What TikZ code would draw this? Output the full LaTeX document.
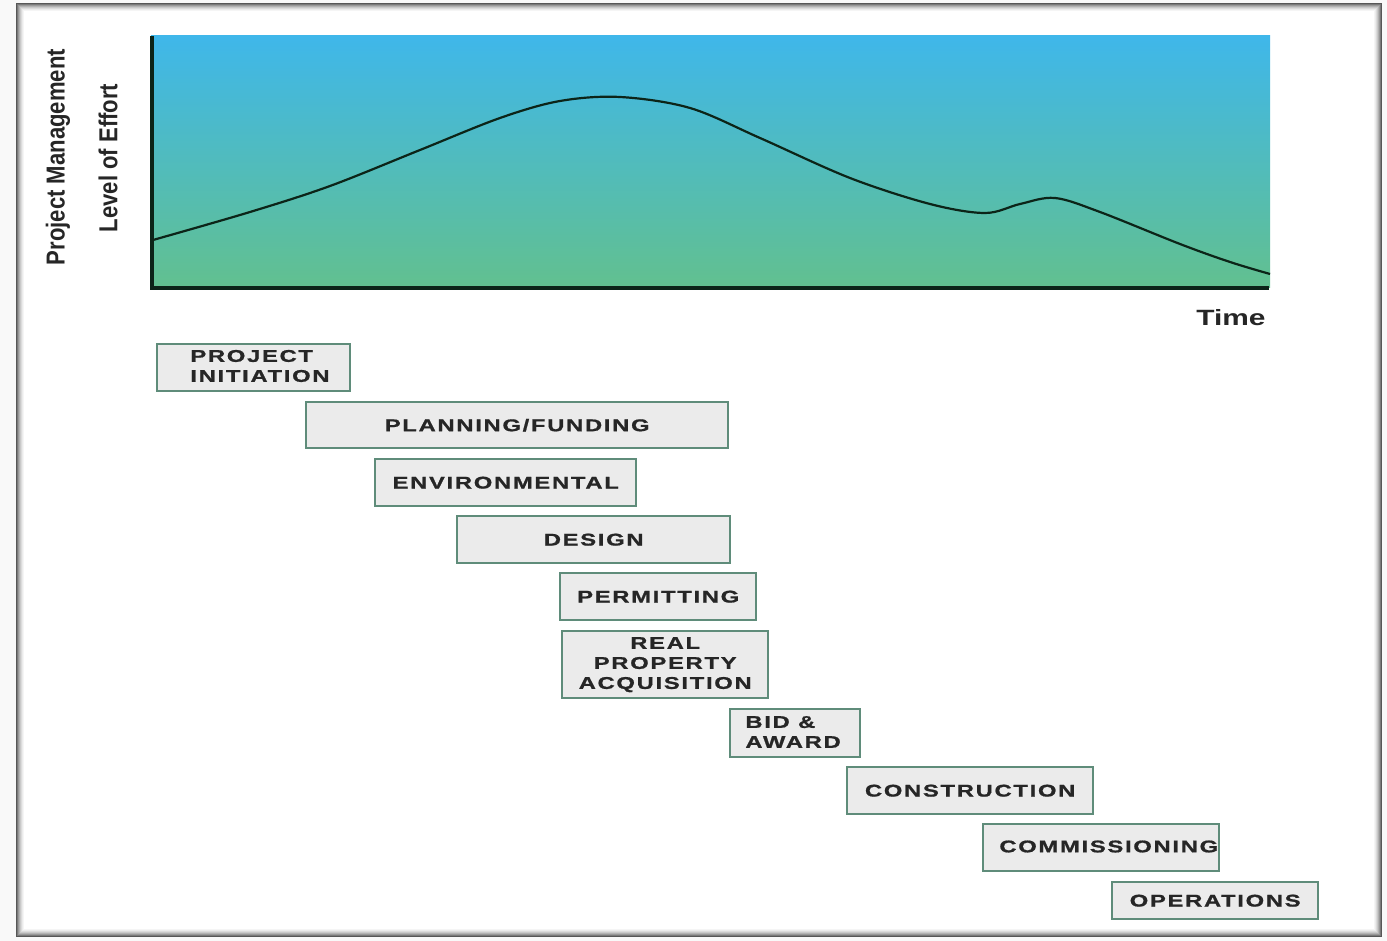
\documentclass[tikz,border=0pt]{standalone}
\usepackage{fontspec}
\setmainfont{Liberation Sans}
\newfontfamily\boxfont{Liberation Sans}[FakeStretch=1.4,LetterSpace=10,FakeBold=1]
\newfontfamily\axisfont{Liberation Sans}
\definecolor{skyblue}{HTML}{3FB7EA}
\definecolor{seagreen}{HTML}{62C08F}
\definecolor{boxedge}{HTML}{5F8C7A}
\definecolor{boxfill}{HTML}{EBEBEB}
\definecolor{inktext}{HTML}{262626}
\definecolor{axisink}{HTML}{0C2418}
\begin{document}
\begin{tikzpicture}[x=0.5pt,y=-0.5pt,
  phase/.style={draw=boxedge, line width=1.2pt, fill=boxfill, inner sep=0pt},
  phasetext/.style={font=\boxfont\bfseries\fontsize{8.5}{10}\selectfont, text=inktext, inner sep=0pt},
  axislabel/.style={font=\axisfont\bfseries\fontsize{13}{15}\selectfont, text=inktext, inner sep=0pt}]
\useasboundingbox (0,0) rectangle (1387,941);
% page background and frame
\fill[gray!5] (0,0) rectangle (1387,941);
\fill[white] (16,3) rectangle (1382,937);
\foreach \i/\c in {0/66,1/52,2/40,3/30,4/21,5/14,6/8,7/4}{
  \draw[black!\c, line width=0.55pt] (16.5+\i,3.5+\i) rectangle (1381.5-\i,936.5-\i);
}
% chart area
\shade[top color=skyblue, bottom color=seagreen, middle color=skyblue!50!seagreen] (151,36) rectangle (1270,288);
\draw[axisink, line width=1.1pt, smooth, tension=0.55] plot coordinates {
  (153,240) (250,212) (330,186) (420,150) (500,118) (560,101) (620,97)
  (690,108) (760,138) (850,178) (930,204) (985,213) (1020,204) (1055,198)
  (1100,212) (1180,244) (1230,262) (1270,274)};
\draw[axisink, line width=2pt] (152,36) -- (152,288) -- (1269,288);
% axis labels
\node[axislabel, rotate=90] (pm) at (58,157) {\scalebox{0.85}[1]{Project Management}};
\node[axislabel, rotate=90] (loe) at (108,158) {\scalebox{0.85}[1]{Level of Effort}};
\node[axislabel, anchor=base east] (time) at (1266,326) {\scalebox{1.15}[0.85]{Time}};
% phase boxes
\node[phase, minimum width=193pt*0.5, minimum height=47pt*0.5, anchor=north west] (b1) at (156,343) {};
\node[phasetext, anchor=west, align=left] (t1) at (190,366) {PROJECT\\INITIATION};
\node[phase, minimum width=422pt*0.5, minimum height=46pt*0.5, anchor=north west] (b2) at (305,401) {};
\node[phasetext] (t2) at (b2.center) {PLANNING/FUNDING};
\node[phase, minimum width=261pt*0.5, minimum height=47pt*0.5, anchor=north west] (b3) at (374,458) {};
\node[phasetext] (t3) at (b3.center) {ENVIRONMENTAL};
\node[phase, minimum width=273pt*0.5, minimum height=47pt*0.5, anchor=north west] (b4) at (456,515) {};
\node[phasetext] (t4) at (b4.center) {DESIGN};
\node[phase, minimum width=196pt*0.5, minimum height=47pt*0.5, anchor=north west] (b5) at (559,572) {};
\node[phasetext] (t5) at (b5.center) {PERMITTING};
\node[phase, minimum width=206pt*0.5, minimum height=67pt*0.5, anchor=north west] (b6) at (561,630) {};
\node[phasetext, align=center] (t6) at (b6.center) {REAL\\PROPERTY\\ACQUISITION};
\node[phase, minimum width=130pt*0.5, minimum height=48pt*0.5, anchor=north west] (b7) at (729,708) {};
\node[phasetext, anchor=west, align=left] (t7) at (745,732) {BID \&\\AWARD};
\node[phase, minimum width=246pt*0.5, minimum height=47pt*0.5, anchor=north west] (b8) at (846,766) {};
\node[phasetext] (t8) at (b8.center) {CONSTRUCTION};
\node[phase, minimum width=236pt*0.5, minimum height=47pt*0.5, anchor=north west] (b9) at (982,823) {};
\node[phasetext, anchor=west] (t9) at (999,846.5) {COMMISSIONING};
\node[phase, minimum width=206pt*0.5, minimum height=37pt*0.5, anchor=north west] (b10) at (1111,881) {};
\node[phasetext] (t10) at (b10.center) {OPERATIONS};
\end{tikzpicture}
\end{document}
